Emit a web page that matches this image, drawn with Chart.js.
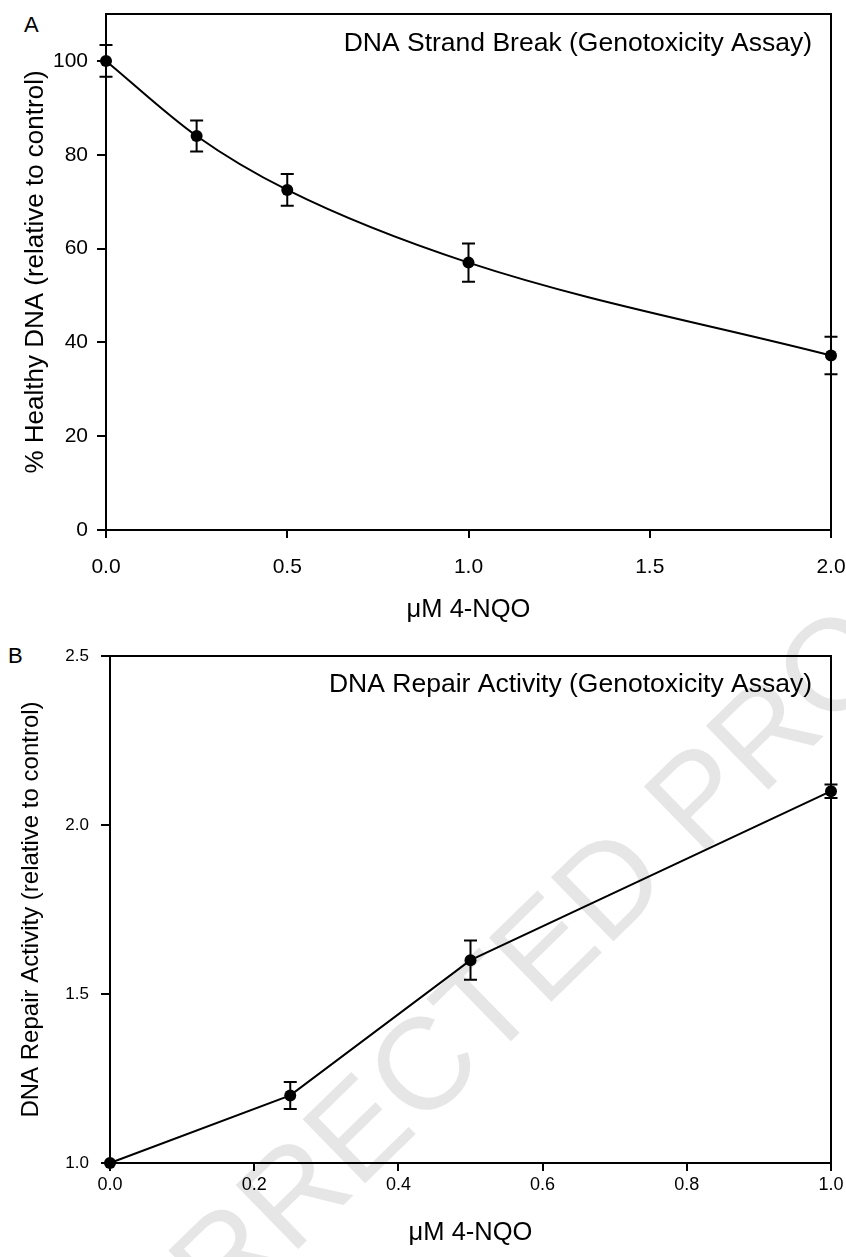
<!DOCTYPE html>
<html>
<head>
<meta charset="utf-8">
<script src="https://cdn.jsdelivr.net/npm/chart.js@4.4.1/dist/chart.umd.min.js"></script>
<style>
  body { margin: 0; background: #fff; width: 846px; height: 1257px; overflow: hidden; position: relative;
         font-family: 'Liberation Sans', Arial, sans-serif; }
  canvas { position: absolute; left: 0; }
  #chartA { top: 0; }
  #chartB { top: 640px; }
  .panel { position: absolute; color: #000; line-height: 1; font-size: 22px; }
  .watermark { position: absolute; left: 458px; top: 1030px; transform: translate(-50%, -50%) rotate(-44.3deg);
               font-size: 130px; color: #e6e6e6; white-space: nowrap; line-height: 1; }
</style>
</head>
<body>
<div class="watermark">UNCORRECTED PROOF</div>
<div class="panel" style="left:24px;top:14px;">A</div>
<div class="panel" style="left:8px;top:645px;">B</div>
<canvas id="chartA" width="846" height="640"></canvas>
<canvas id="chartB" width="846" height="617"></canvas>
<script>
// ── Data ───────────────────────────────────────────────
const doseA = [0, 0.25, 0.5, 1.0, 2.0];
const healthyDNA = [100, 84, 72.5, 57, 37.2];
const healthyErr = [3.4, 3.3, 3.4, 4.1, 4.0];

const doseB = [0, 0.25, 0.5, 1.0];
const repairActivity = [1.0, 1.2, 1.6, 2.1];
const repairErr = [0, 0.04, 0.058, 0.02];

const titleA = 'DNA Strand Break (Genotoxicity Assay)';
const titleB = 'DNA Repair Activity (Genotoxicity Assay)';
const xTitle = 'μM 4-NQO';

Chart.defaults.font.family = "'Liberation Sans', Arial, sans-serif";
Chart.defaults.color = '#000';

// error bars drawn under the markers
const errorBars = {
  id: 'errorBars',
  beforeDatasetsDraw(chart, args, opts) {
    const { ctx, scales: { x, y } } = chart;
    const pts = chart.data.datasets[0].data;
    ctx.save();
    ctx.strokeStyle = '#000';
    ctx.lineWidth = 2;
    pts.forEach((p, i) => {
      const e = opts.errors[i];
      if (!e) return;
      const px = x.getPixelForValue(p.x);
      const top = y.getPixelForValue(p.y + e);
      const bot = y.getPixelForValue(p.y - e);
      ctx.beginPath();
      ctx.moveTo(px, top); ctx.lineTo(px, bot);
      ctx.moveTo(px - 6.5, top); ctx.lineTo(px + 6.5, top);
      ctx.moveTo(px - 6.5, bot); ctx.lineTo(px + 6.5, bot);
      ctx.stroke();
    });
    ctx.restore();
  }
};

// top + right frame and the label inside the plot
const frame = {
  id: 'frame',
  afterDraw(chart, args, opts) {
    const { ctx, chartArea: a } = chart;
    ctx.save();
    ctx.strokeStyle = '#000';
    ctx.lineWidth = 2;
    ctx.beginPath();
    ctx.moveTo(a.left, a.top); ctx.lineTo(a.right, a.top); ctx.lineTo(a.right, a.bottom);
    ctx.stroke();
    ctx.fillStyle = '#000';
    ctx.font = opts.size + "px 'Liberation Sans', Arial, sans-serif";
    ctx.textAlign = 'right';
    ctx.textBaseline = 'middle';
    ctx.fillText(opts.text, a.right - 19, a.top + opts.dy);
    ctx.restore();
  }
};

// fixed axis boxes so the plot area lands where the figure has it
function noPad(s) { s.paddingLeft = s.paddingRight = s.paddingTop = s.paddingBottom = 0; }

function axisX(min, max, step, tickSize, tickPad, height, titlePad) {
  return {
    type: 'linear', min, max,
    afterFit: s => { s.height = height; noPad(s); },
    border: { display: true, color: '#000', width: 2 },
    grid: { drawOnChartArea: false, color: '#000', lineWidth: 2, tickLength: 8 },
    ticks: { stepSize: step, includeBounds: false, padding: tickPad, maxRotation: 0,
             font: { size: tickSize }, callback: v => v.toFixed(1) },
    title: { display: true, text: xTitle, font: { size: 25.5 }, padding: { top: 0, bottom: titlePad } }
  };
}

function axisY(min, max, step, tickSize, tickPad, fmt, width, title, titleSize, titlePad) {
  return {
    type: 'linear', min, max,
    afterFit: s => { s.width = width; noPad(s); },
    border: { display: true, color: '#000', width: 2 },
    grid: { drawOnChartArea: false, color: '#000', lineWidth: 2, tickLength: 9 },
    ticks: { stepSize: step, includeBounds: false, padding: tickPad, font: { size: tickSize }, callback: fmt },
    title: { display: true, text: title, font: { size: titleSize }, padding: { top: titlePad, bottom: 0 } }
  };
}

function dataset(xs, ys, tension) {
  return {
    data: xs.map((x, i) => ({ x, y: ys[i] })),
    borderColor: '#000',
    borderWidth: 2,
    pointRadius: 6,
    pointBackgroundColor: '#000',
    pointBorderWidth: 0,
    tension,
    cubicInterpolationMode: tension ? 'monotone' : 'default',
    clip: false
  };
}

new Chart(document.getElementById('chartA'), {
  type: 'line',
  data: { datasets: [dataset(doseA, healthyDNA, 0.4)] },
  options: {
    responsive: false,
    animation: false,
    layout: { padding: { top: 14, right: 15, left: 0, bottom: 0 } },
    plugins: {
      legend: { display: false },
      tooltip: { enabled: false },
      errorBars: { errors: healthyErr },
      frame: { text: titleA, size: 26.5, dy: 29.5 }
    },
    scales: {
      x: axisX(0, 2, 0.5, 21, 17, 110, 14.5),
      y: axisY(0, 110, 20, 21, 9, v => v, 106, '% Healthy DNA (relative to control)', 26, 20)
    }
  },
  plugins: [errorBars, frame]
});

new Chart(document.getElementById('chartB'), {
  type: 'line',
  data: { datasets: [dataset(doseB, repairActivity, 0)] },
  options: {
    responsive: false,
    animation: false,
    layout: { padding: { top: 16, right: 15, left: 0, bottom: 0 } },
    plugins: {
      legend: { display: false },
      tooltip: { enabled: false },
      errorBars: { errors: repairErr },
      frame: { text: titleB, size: 26.5, dy: 29 }
    },
    scales: {
      x: axisX(0, 1, 0.2, 18, 3, 94, 8.5),
      y: axisY(1, 2.5, 0.5, 17, 12, v => v.toFixed(1), 110, 'DNA Repair Activity (relative to control)', 24, 17)
    }
  },
  plugins: [errorBars, frame]
});
</script>
</body>
</html>
